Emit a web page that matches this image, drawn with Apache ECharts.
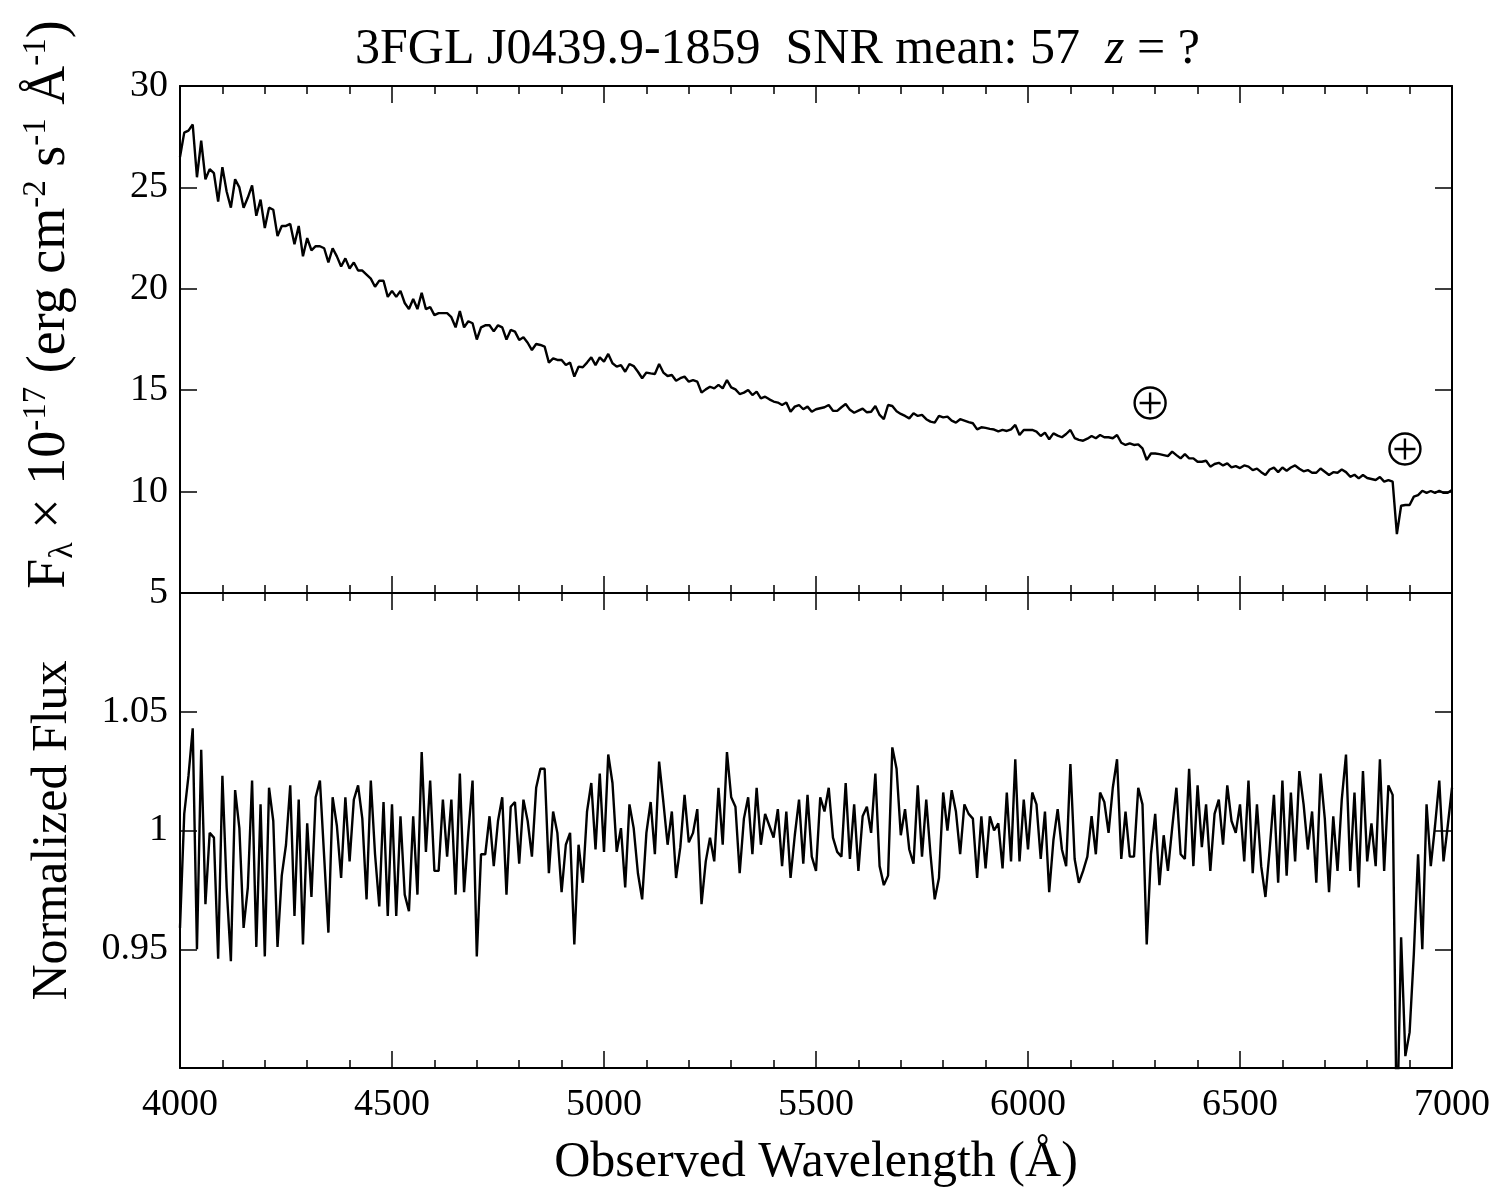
<!DOCTYPE html>
<html>
<head>
<meta charset="utf-8">
<title>3FGL J0439.9-1859</title>
<script src="https://cdn.jsdelivr.net/npm/echarts@6/dist/echarts.min.js"></script>
<style>
  html, body { margin: 0; padding: 0; background: #fff; }
  #main { width: 1500px; height: 1200px; }
</style>
</head>
<body>
<div id="main"></div>
<script>
// wavelength grid of the spectrum (Angstrom)
const waveStart = 4000
const waveStep = 10

// flux in 1e-17 erg/cm2/s/A, one row per 100 A
const fluxValues = [
  26.5, 27.7, 27.8, 28.1, 25.5, 27.3, 25.4, 25.9, 25.7, 24.3,
  26.0, 24.8, 24.0, 25.4, 25.0, 24.0, 24.5, 25.1, 23.6, 24.4,
  23.0, 24.0, 23.9, 22.6, 23.1, 23.1, 23.2, 22.2, 23.1, 21.6,
  22.5, 21.9, 22.1, 22.1, 22.0, 21.3, 22.0, 21.6, 21.1, 21.5,
  21.0, 21.3, 20.9, 20.9, 20.7, 20.5, 20.1, 20.4, 20.4, 19.6,
  19.9, 19.6, 19.9, 19.3, 19.0, 19.5, 19.0, 19.8, 19.0, 19.1,
  18.7, 18.8, 18.8, 18.8, 18.6, 18.1, 18.9, 18.1, 18.4, 18.3,
  17.5, 18.1, 18.2, 18.2, 17.9, 18.2, 18.1, 17.5, 17.97, 17.89,
  17.48, 17.61, 17.34, 16.98, 17.28, 17.23, 17.15, 16.36, 16.57, 16.49,
  16.49, 16.24, 16.36, 15.67, 16.16, 16.13, 16.36, 16.62, 16.24, 16.62,
  16.41, 16.79, 16.33, 16.16, 16.24, 15.91, 16.29, 16.19, 15.91, 15.59,
  15.87, 15.83, 15.80, 16.29, 15.87, 15.70, 15.75, 15.47, 15.59, 15.67,
  15.42, 15.50, 15.42, 14.88, 15.04, 15.17, 15.09, 15.26, 15.09, 15.50,
  15.14, 15.04, 14.81, 14.88, 15.01, 14.76, 14.93, 14.60, 14.68, 14.55,
  14.44, 14.39, 14.27, 14.39, 13.94, 14.19, 14.27, 14.06, 14.19, 13.94,
  14.06, 14.11, 14.16, 14.27, 13.99, 13.98, 14.16, 14.32, 14.03, 13.89,
  13.99, 14.09, 13.91, 13.94, 14.22, 13.78, 13.57, 14.27, 14.22, 13.96,
  13.83, 13.73, 13.61, 13.86, 13.73, 13.78, 13.57, 13.45, 13.40, 13.73,
  13.66, 13.70, 13.50, 13.40, 13.57, 13.50, 13.43, 13.37, 13.07, 13.17,
  13.14, 13.09, 13.06, 12.97, 13.04, 12.99, 13.07, 13.29, 12.79, 13.04,
  13.04, 13.04, 12.96, 12.74, 12.91, 12.58, 12.87, 12.76, 12.68, 12.84,
  13.04, 12.64, 12.55, 12.51, 12.61, 12.74, 12.63, 12.79, 12.68, 12.68,
  12.63, 12.79, 12.41, 12.30, 12.38, 12.30, 12.33, 12.13, 11.56, 11.88,
  11.88, 11.85, 11.80, 11.75, 11.97, 11.80, 11.64, 11.85, 11.64, 11.64,
  11.47, 11.47, 11.52, 11.23, 11.36, 11.42, 11.29, 11.39, 11.19, 11.26,
  11.16, 11.29, 11.23, 11.06, 11.13, 10.96, 10.82, 11.09, 11.18, 10.96,
  11.19, 11.03, 11.19, 11.29, 11.13, 11.00, 11.06, 10.93, 10.93, 11.14,
  10.98, 10.82, 10.96, 10.93, 11.09, 10.96, 10.73, 10.83, 10.65, 10.82,
  10.67, 10.62, 10.57, 10.72, 10.49, 10.57, 10.49, 7.9, 9.3, 9.34,
  9.34, 9.75, 9.83, 10.04, 9.94, 10.03, 9.94, 10.04, 9.94, 9.94,
  10.08
]

// continuum-normalized flux on the same grid
const normValues = [
  0.959, 1.007, 1.023, 1.043, 0.950, 1.034, 0.969, 0.999, 0.997, 0.946,
  1.023, 0.976, 0.945, 1.017, 1.001, 0.959, 0.976, 1.021, 0.951, 1.011,
  0.947, 1.018, 1.004, 0.951, 0.981, 0.994, 1.019, 0.964, 1.013, 0.952,
  1.003, 0.972, 1.014, 1.021, 0.989, 0.957, 1.014, 1.002, 0.980, 1.014,
  0.987, 1.013, 1.019, 1.005, 0.971, 1.021, 0.990, 0.968, 1.012, 0.964,
  1.011, 0.964, 1.006, 0.973, 0.966, 1.006, 0.973, 1.033, 0.991, 1.021,
  0.983, 0.983, 1.013, 0.989, 1.013, 0.973, 1.024, 0.974, 0.999, 1.021,
  0.947, 0.990, 0.990, 1.006, 0.985, 1.004, 1.014, 0.973, 1.010, 1.012,
  0.986, 1.013, 1.004, 0.989, 1.018, 1.026, 1.026, 0.982, 1.008, 0.999,
  0.974, 0.994, 0.999, 0.952, 0.994, 0.978, 1.008, 1.020, 0.992, 1.024,
  0.991, 1.032, 1.020, 0.991, 1.001, 0.976, 1.011, 1.001, 0.982, 0.971,
  0.999, 1.012, 0.990, 1.029, 1.012, 0.994, 1.008, 0.980, 0.993, 1.015,
  0.995, 0.999, 1.009, 0.969, 0.987, 0.997, 0.987, 1.018, 0.994, 1.033,
  1.014, 1.010, 0.982, 1.005, 1.014, 0.990, 1.018, 0.994, 1.007, 1.002,
  0.997, 1.009, 0.985, 1.008, 0.980, 0.998, 1.013, 0.986, 1.015, 0.989,
  0.983, 1.014, 1.008, 1.018, 0.997, 0.991, 0.989, 1.020, 0.988, 1.011,
  0.983, 1.006, 1.010, 0.999, 1.024, 0.985, 0.977, 0.981, 1.035, 1.026,
  0.998, 1.009, 0.992, 0.986, 1.019, 0.989, 1.013, 0.990, 0.971, 0.980,
  1.016, 1.000, 1.017, 1.008, 0.990, 1.011, 1.007, 1.005, 0.980, 1.006,
  0.984, 1.006, 1.000, 1.003, 0.984, 1.016, 0.987, 1.030, 0.987, 1.013,
  0.992, 1.016, 1.011, 0.988, 1.008, 0.974, 0.996, 1.009, 0.992, 0.985,
  1.028, 0.988, 0.978, 0.983, 0.989, 1.006, 0.990, 1.016, 1.012, 0.999,
  1.018, 1.030, 0.988, 1.008, 0.989, 0.989, 1.018, 1.011, 0.952, 0.990,
  1.007, 0.977, 0.998, 0.983, 1.001, 1.018, 0.990, 0.988, 1.026, 0.985,
  1.019, 0.993, 1.011, 0.983, 1.007, 1.013, 0.994, 1.019, 1.004, 0.999,
  1.011, 0.987, 1.021, 0.982, 1.011, 0.985, 0.972, 0.992, 1.015, 0.978,
  1.021, 0.981, 1.016, 0.987, 1.025, 1.011, 0.992, 1.008, 0.978, 1.024,
  1.005, 0.974, 1.006, 0.983, 1.013, 1.032, 0.983, 1.016, 0.976, 1.025,
  0.987, 1.003, 0.985, 1.030, 0.983, 1.019, 1.015, 0.87, 0.955, 0.905,
  0.915, 0.948, 0.990, 0.950, 1.011, 0.985, 1.002, 1.021, 0.987, 1.002,
  1.018
]

// telluric absorption markers (circled plus)
const telluricWaves = [6288, 6889]
const telluricHeights = [14.37, 12.10]

const serif = 'Liberation Serif, Times New Roman, serif'

function toPairs(values) {
  return values.map((v, i) => [waveStart + i * waveStep, v])
}

function xAxisFor(gridIndex, position, showLabel) {
  return {
    type: 'value',
    gridIndex: gridIndex,
    position: position,
    min: 4000,
    max: 7000,
    interval: 500,
    axisLine: { show: true, onZero: false, lineStyle: { color: '#000', width: 2 } },
    axisTick: { show: true, inside: true, length: 17, lineStyle: { color: '#000', width: 1.5 } },
    minorTick: { show: true, splitNumber: 5, length: 8, lineStyle: { color: '#000', width: 1.5 } },
    axisLabel: {
      show: showLabel, margin: 18, fontSize: 38, fontFamily: serif, color: '#000',
      formatter: function (v) { return String(v) }
    },
    splitLine: { show: false }
  }
}

function yAxisFor(gridIndex, position, min, max, interval, showLabel, formatter) {
  return {
    type: 'value',
    gridIndex: gridIndex,
    position: position,
    min: min,
    max: max,
    interval: interval,
    axisLine: { show: true, onZero: false, lineStyle: { color: '#000', width: 2 } },
    axisTick: { show: true, inside: true, length: 17, lineStyle: { color: '#000', width: 1.5 } },
    axisLabel: { show: showLabel, margin: 12, fontSize: 38, fontFamily: serif, color: '#000', formatter: formatter },
    splitLine: { show: false }
  }
}

const topYAxis = yAxisFor(0, 'left', 5, 30, 5, true)
topYAxis.name = '{t|F}{sub|λ}{t| × 10}{sup|-17}{t| (erg cm}{sup|-2}{t| s}{sup|-1}{t| Å}{sup|-1}{t|)}'
topYAxis.nameLocation = 'middle'
topYAxis.nameRotate = 90
topYAxis.nameGap = 100
topYAxis.nameTextStyle = {
  color: '#000',
  fontFamily: serif,
  padding: [0, 0, 0, 70],
  rich: {
    t: { fontSize: 54, lineHeight: 60, fontFamily: serif, color: '#000' },
    sup: { fontSize: 33, lineHeight: 33, verticalAlign: 'top', fontFamily: serif, color: '#000' },
    sub: { fontSize: 34, lineHeight: 34, verticalAlign: 'bottom', fontFamily: serif, color: '#000' }
  }
}

const bottomYAxis = yAxisFor(1, 'left', 0.9, 1.1, 0.05, true, function (v) {
  if (Math.abs(v - 0.9) < 1e-6 || Math.abs(v - 1.1) < 1e-6) return ''
  return String(+v.toFixed(2))
})
bottomYAxis.name = 'Normalized Flux'
bottomYAxis.nameLocation = 'middle'
bottomYAxis.nameRotate = 90
bottomYAxis.nameGap = 102
bottomYAxis.nameTextStyle = { fontSize: 50, fontFamily: serif, color: '#000' }

const bottomXAxis = xAxisFor(1, 'bottom', true)
bottomXAxis.name = 'Observed Wavelength (Å)'
bottomXAxis.nameLocation = 'middle'
bottomXAxis.nameGap = 70
bottomXAxis.nameTextStyle = { fontSize: 50, fontFamily: serif, color: '#000' }

const myChart = echarts.init(document.getElementById('main'))
const option = {
  backgroundColor: '#fff',
  animation: false,
  title: {
    text: '3FGL J0439.9-1859  SNR mean: 57  {i|z} = ?',
    left: 350,
    top: 20,
    textStyle: {
      fontFamily: serif,
      fontSize: 50,
      fontWeight: 'normal',
      color: '#000',
      rich: {
        i: { fontFamily: serif, fontSize: 50, fontStyle: 'italic', color: '#000' }
      }
    }
  },
  grid: [
    { left: 180, top: 86, width: 1272, height: 507 },
    { left: 180, top: 593, width: 1272, height: 475 }
  ],
  xAxis: [
    xAxisFor(0, 'bottom', false),
    xAxisFor(0, 'top', false),
    xAxisFor(1, 'top', false),
    bottomXAxis
  ],
  yAxis: [
    topYAxis,
    yAxisFor(0, 'right', 5, 30, 5, false),
    bottomYAxis,
    yAxisFor(1, 'right', 0.9, 1.1, 0.05, false)
  ],
  series: [
    {
      name: 'flux',
      type: 'line',
      xAxisIndex: 0,
      yAxisIndex: 0,
      data: toPairs(fluxValues),
      showSymbol: false,
      lineStyle: { color: '#000', width: 2.4 },
      clip: true
    },
    {
      name: 'normalized',
      type: 'line',
      xAxisIndex: 3,
      yAxisIndex: 2,
      data: toPairs(normValues),
      showSymbol: false,
      lineStyle: { color: '#000', width: 2.4 },
      clip: true
    },
    {
      name: 'telluric ring',
      type: 'scatter',
      xAxisIndex: 0,
      yAxisIndex: 0,
      data: telluricWaves.map((w, i) => [w, telluricHeights[i]]),
      symbol: 'circle',
      symbolSize: 31,
      itemStyle: { color: 'rgba(0,0,0,0)', borderColor: '#000', borderWidth: 2.4, opacity: 1 },
      silent: true
    },
    {
      name: 'telluric cross',
      type: 'scatter',
      xAxisIndex: 0,
      yAxisIndex: 0,
      data: telluricWaves.map((w, i) => [w, telluricHeights[i]]),
      symbol: 'path://M10,0 L10,20 M0,10 L20,10',
      symbolSize: 21,
      itemStyle: { color: 'rgba(0,0,0,0)', borderColor: '#000', borderWidth: 2.4, opacity: 1 },
      silent: true
    }
  ]
}
myChart.setOption(option)
</script>
</body>
</html>
